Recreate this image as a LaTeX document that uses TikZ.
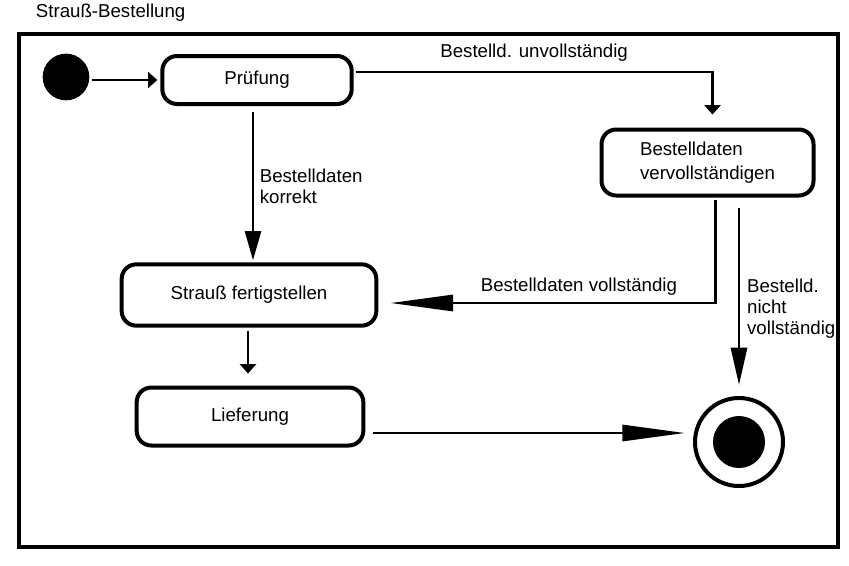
\documentclass[tikz,border=0pt]{standalone}
\usepackage{fontspec}
\setmainfont{Liberation Sans}
\usetikzlibrary{arrows.meta,calc}

\tikzset{
  state/.style={draw, line width=3pt, rounded corners=11pt, inner sep=0pt, align=left, font=\fontsize{14}{18}\selectfont},
  lbl/.style={font=\fontsize{14}{16}\selectfont, align=left, inner sep=2pt},
  conn/.style={line width=2.2pt},
  smallarr/.style={conn, -{Triangle[length=7pt,width=12pt]}},
  bigarr/.style={conn, -{Triangle[length=#1,width=12pt]}},
}

\begin{document}
\begin{tikzpicture}[x=0.75pt, y=-0.75pt]
  \useasboundingbox (0,0) rectangle (849,565);
  \node[anchor=west, lbl] (title) at (33,13) {Strauß-Bestellung};
  \draw[line width=3pt] (19,34) rectangle (838,547);
  % Zustaende
  \node[circle, fill, inner sep=0pt, minimum size=35pt] (init) at (66,77) {};
  \node[state, minimum width=142pt, minimum height=36pt] (pruef) at (257,80) {Prüfung};
  \node[state, minimum width=159pt, minimum height=49.5pt] (verv) at (707.5,162.5) {Bestelldaten\\vervollständigen};
  \node[state, minimum width=191pt, minimum height=46pt] (straus) at (249,295) {Strauß fertigstellen};
  \node[state, minimum width=170pt, minimum height=43.5pt] (lief) at (250,416.5) {Lieferung};
  \node[circle, draw, line width=3pt, inner sep=0pt, minimum size=66pt] (final) at (739,442) {};
  \node[circle, fill, inner sep=0pt, minimum size=39pt] (finaldot) at (final) {};
  % Uebergaenge
  \draw[smallarr] ($(init.east |- pruef.west)+(2,0)$) -- ($(pruef.west)+(-3,0)$);
  \draw[smallarr] ($(pruef.east)+(2,-8)$) -| node[pos=0.25, above=5pt, lbl] (lblunv) {Bestelld. unvollständig} ($(verv.north)+(5,-13)$);
  \draw[bigarr=22pt] ($(pruef.south)+(-4,6)$) -- node[midway, right=2pt, lbl] (lblkor) {Bestelldaten\\korrekt} ($(straus.north)+(4,-2)$);
  \draw[bigarr=47pt] ($(verv.south)+(8,2)$) |- node[pos=0.71, above=3pt, lbl] (lblvoll) {Bestelldaten vollständig} ($(straus.east)+(12,8)$);
  \draw[bigarr=28pt] ($(verv.south)+(31.5,10)$) -- node[pos=0.57, right=3pt, lbl] (lblnicht) {Bestelld.\\nicht\\vollständig} ($(final.north)+(0,-11)$);
  \draw[smallarr] ($(straus.south)+(-1,3)$) -- ($(lief.north)+(-2,-12)$);
  \draw[bigarr=47pt] ($(lief.east)+(8,16.5)$) -- ($(final.west)+(-8,-9)$);
\end{tikzpicture}
\end{document}
